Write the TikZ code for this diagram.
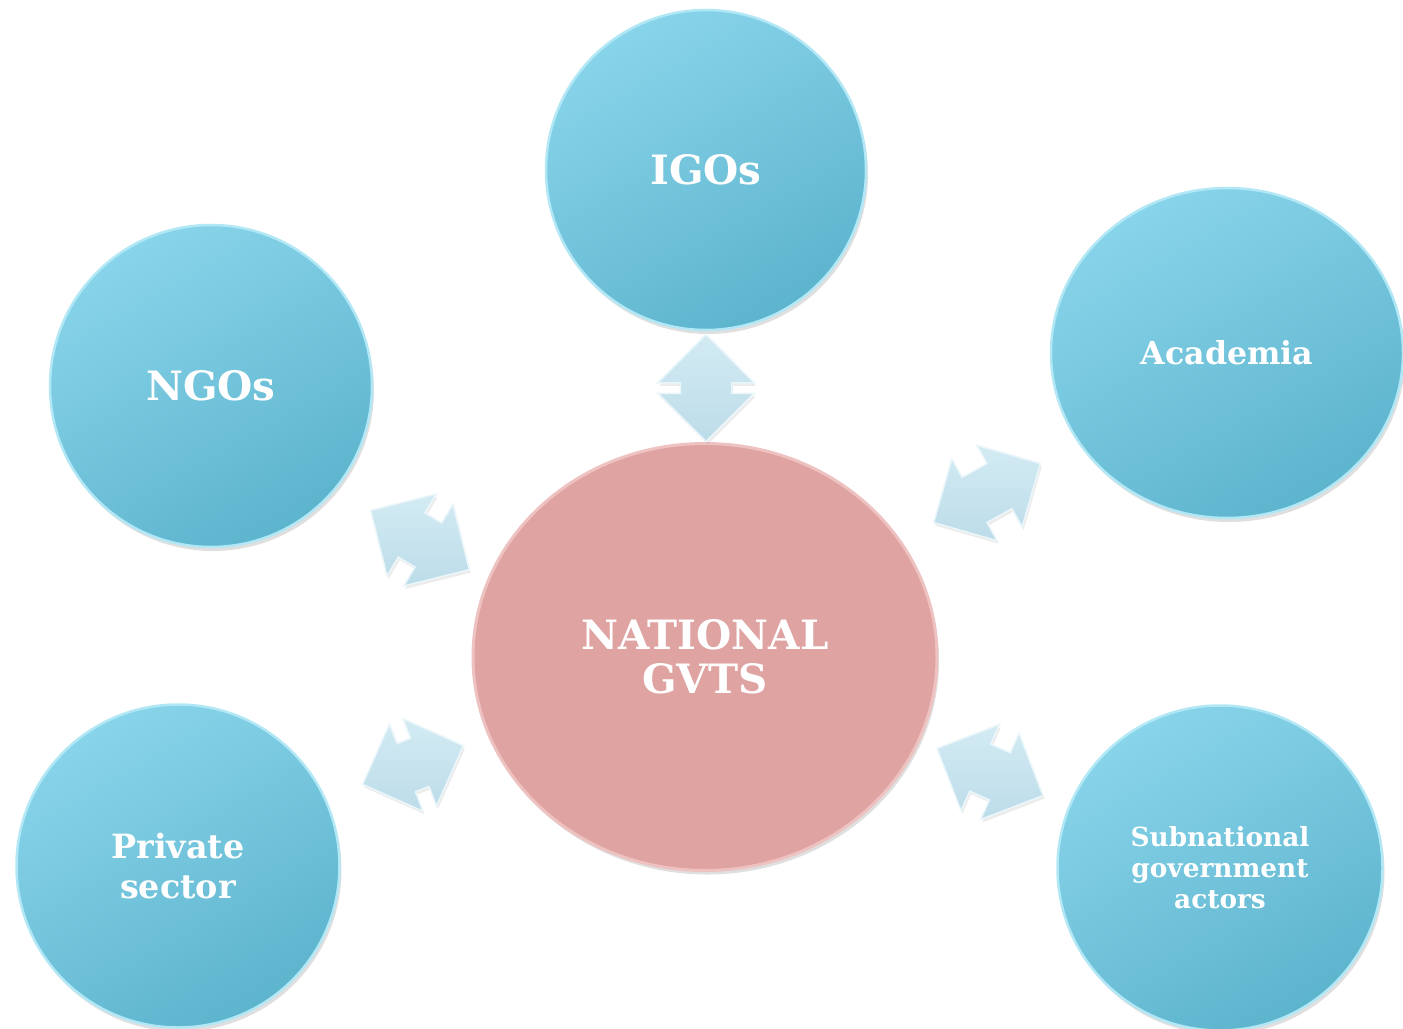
\documentclass[tikz,border=0pt]{standalone}
\usepackage{fontspec}
\setmainfont{DejaVu Serif}
\usetikzlibrary{shapes.geometric,shapes.arrows,shadows}

\definecolor{bluetop}{HTML}{88D4EA}
\definecolor{bluebot}{HTML}{5DB4CD}
\definecolor{bluerim}{HTML}{B2E8F6}
\definecolor{natpink}{HTML}{DFA3A2}
\definecolor{natrim}{HTML}{EDC2C1}
\definecolor{arrtop}{HTML}{D3EBF3}
\definecolor{arrbot}{HTML}{BCDCE9}
\definecolor{arredge}{HTML}{EAF6FA}

\tikzset{
  actor/.style={circle, inner sep=0pt, align=center, text=white,
    top color=bluetop, bottom color=bluebot, shading angle=30,
    draw=bluerim, line width=0.5mm,
    drop shadow={shadow xshift=0.4mm, shadow yshift=-0.8mm, opacity=0.25}},
  hub/.style={ellipse, inner sep=0pt, align=center, text=white,
    fill=natpink, draw=natrim, line width=0.6mm,
    drop shadow={shadow xshift=0.4mm, shadow yshift=-0.8mm, opacity=0.25}},
  link/.style={double arrow, double arrow tip angle=90, inner xsep=0pt,
    inner ysep=5mm, minimum width=0pt,
    top color=arrtop, bottom color=arrbot, draw=arredge, line width=0.3mm,
    drop shadow={shadow xshift=0.3mm, shadow yshift=-0.6mm, opacity=0.15}}
}

\begin{document}
\begin{tikzpicture}[x=0.2mm, y=-0.2mm]

\useasboundingbox (0,0) rectangle (1403,1029);

% centre
\node[hub, minimum width=92.8mm, minimum height=85.4mm,
  font=\bfseries\fontsize{23}{25}\selectfont] (nat) at (705,657) {NATIONAL\\GVTS};

% actors round it
\node[actor, minimum size=64mm, font=\bfseries\fontsize{23}{25}\selectfont] (igo) at (706,170) {IGOs};
\node[actor, minimum size=64.4mm, font=\bfseries\fontsize{23}{25}\selectfont] (ngo) at (211,386) {NGOs};
\node[actor, ellipse, minimum width=70.4mm, minimum height=66mm,
  font=\bfseries\fontsize{18}{20}\selectfont] (acad) at (1227,353) {Academia};
\node[actor, minimum size=64.6mm, font=\bfseries\fontsize{19}{22.5}\selectfont] (priv) at (178,866) {Private\\sector};
\node[actor, minimum size=65mm, font=\bfseries\fontsize{15}{17.6}\selectfont] (subn) at (1220,868) {Subnational\\government\\actors};

% double arrows
\node[link, rotate=90, minimum height=21.4mm,
  double arrow head extend=4.5mm] (toigo) at (706,388) {};
\node[link, rotate=-31, minimum height=23mm,
  double arrow head extend=4.4mm] (tongo) at (420,540) {};
\node[link, rotate=29, minimum height=24.4mm,
  double arrow head extend=4.2mm] (toacad) at (987,493) {};
\node[link, rotate=21, minimum height=21.6mm,
  double arrow head extend=4.2mm] (topriv) at (413,765) {};
\node[link, rotate=-24, minimum height=23.2mm,
  double arrow head extend=4.3mm] (tosubn) at (990,772) {};

\end{tikzpicture}
\end{document}
